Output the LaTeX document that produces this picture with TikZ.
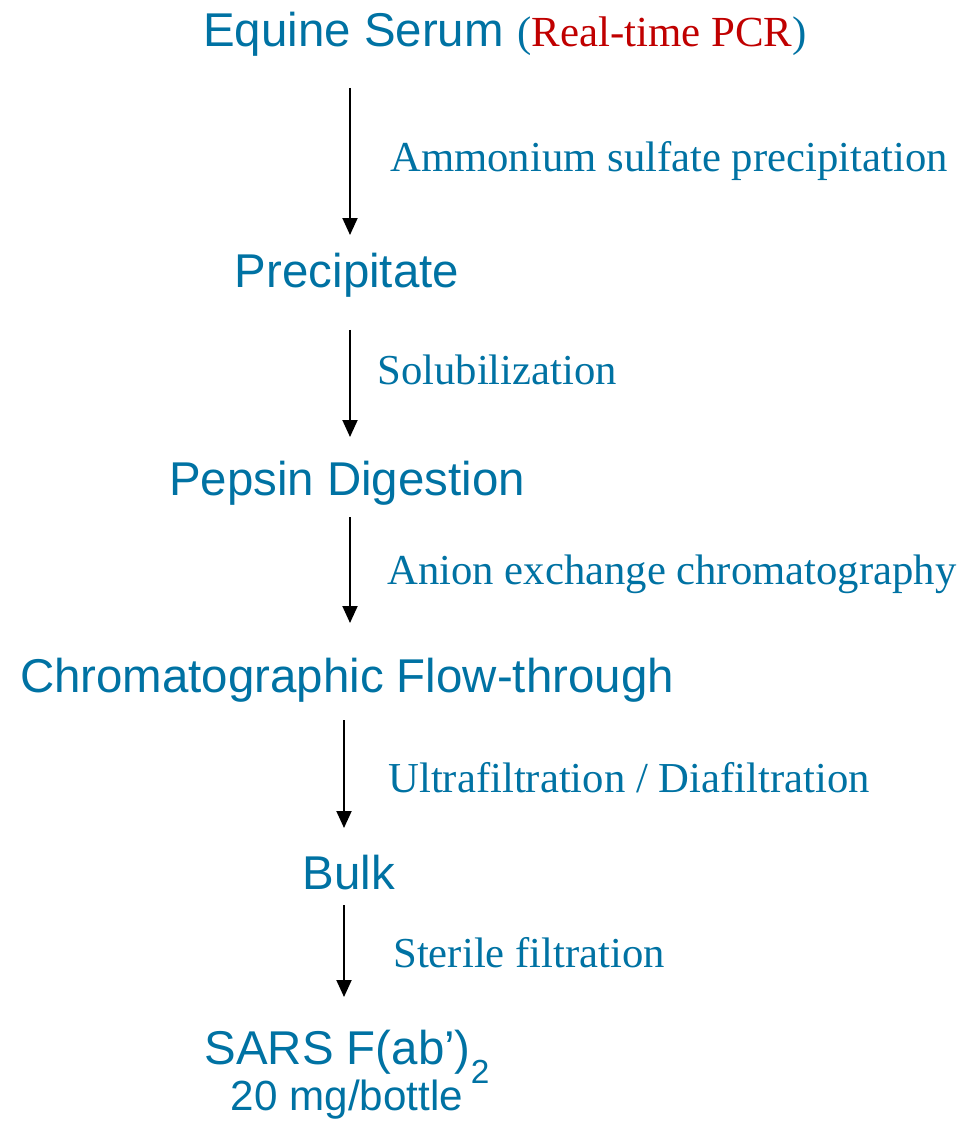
\documentclass[tikz,border=0pt]{standalone}
\usepackage{fontspec}
\setmainfont{Liberation Serif}
\setsansfont{Liberation Sans}
\usepackage{tikz}
\usetikzlibrary{arrows.meta}
\definecolor{stepblue}{RGB}{0,114,163}
\definecolor{pcrred}{RGB}{192,0,0}
\tikzset{
  stage/.style={inner sep=0pt, anchor=base, text=stepblue, font=\sffamily\fontsize{27}{30}\selectfont},
  treat/.style={inner sep=0pt, anchor=base west, text=stepblue, font=\rmfamily\fontsize{24.3}{28}\selectfont},
  flow/.style={line width=1.1pt, -{Triangle[width=0.3cm,length=0.34cm]}}
}

\begin{document}
\begin{tikzpicture}[x=0.02cm, y=-0.02cm]
	 \useasboundingbox (0,0) rectangle (959,1121);
	 % process stages
	 \node[stage, anchor=base west] (serum) at (203,47) {Equine Serum {\rmfamily\fontsize{24.4}{28}\selectfont (\textcolor{pcrred}{Real-time PCR})}};
	 \node[stage] (prec) at (347,288) {Precipitate};
	 \node[stage] (pepsin) at (347,495) {Pepsin Digestion};
	 \node[stage] (flowthr) at (347,692) {Chromatographic Flow-through};
	 \node[stage] (bulk) at (349,889) {Bulk};
	 \node[stage] (fab) at (347,1064) {SARS F(ab’)\raisebox{-11pt}{\fontsize{19}{20}\selectfont 2}};
	 \node[stage, font=\sffamily\fontsize{24}{28}\selectfont] (dose) at (347,1110) {20 mg/bottle};
	 % treatments
	 \node[treat] (ammon) at (390,172) {Ammonium sulfate precipitation};
	 \node[treat] (solub) at (377,384) {Solubilization};
	 \node[treat] (anion) at (387,584) {Anion exchange chromatography};
	 \node[treat] (ufdf) at (388,792) {Ultrafiltration / Diafiltration};
	 \node[treat] (steril) at (393,967) {Sterile filtration};
	 % arrows
	 \coordinate (a1top) at (350,88);  \coordinate (a1tip) at (350,235);
	 \coordinate (a2top) at (350,330); \coordinate (a2tip) at (350,437);
	 \coordinate (a3top) at (350,517); \coordinate (a3tip) at (350,623);
	 \coordinate (a4top) at (344,720); \coordinate (a4tip) at (344,828);
	 \coordinate (a5top) at (344,905); \coordinate (a5tip) at (344,997);
	 \foreach \i in {1,...,5}
	    \draw[flow] (a\i top) -- (a\i tip);
\end{tikzpicture}
\end{document}
